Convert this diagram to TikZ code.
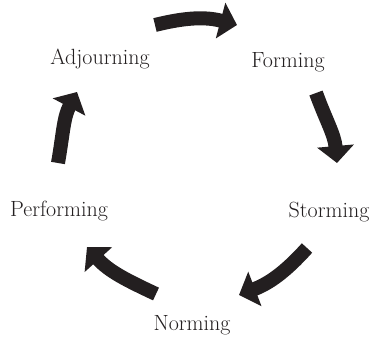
\documentclass[tikz,border=0pt]{standalone}
\usetikzlibrary{arrows.meta}
\definecolor{darkink}{HTML}{231F20}
\begin{document}
\begin{tikzpicture}[x=1pt, y=1pt, stage/.style = {anchor=base, inner sep=0pt, text=darkink, font=\fontsize{22}{26}\selectfont}, cyc/.style = {draw=darkink, line width=14pt, -{Triangle[width=36pt,length=17pt]}}]
\useasboundingbox (0,0) rectangle (371,338);
\node[stage] (adj) at (100,273) {Adjourning};
\node[stage] (form) at (288,270) {Forming};
\node[stage] (storm) at (329,121) {Storming};
\node[stage] (norm) at (192,8) {Norming};
\node[stage] (perf) at (59,122) {Performing};

% arrow ends
\coordinate (t1) at (155,313);
\coordinate (h1) at (237,313);
\coordinate (t2) at (316,245);
\coordinate (h2) at (337,175);
\coordinate (t3) at (307,90);
\coordinate (h3) at (239,43);
\coordinate (t4) at (156,44);
\coordinate (h4) at (87,91);
\coordinate (t5) at (58,175);
\coordinate (h5) at (77,246);

\draw[cyc] (t1) to[out=14, in=165] (h1);
\draw[cyc] (t2) to[out=-70, in=95] (h2);
\draw[cyc] (t3) to[out=-132, in=21] (h3);
\draw[cyc] (t4) to[out=155, in=-48] (h4);
\draw[cyc] (t5) to[out=80, in=-118] (h5);
\end{tikzpicture}
\end{document}
